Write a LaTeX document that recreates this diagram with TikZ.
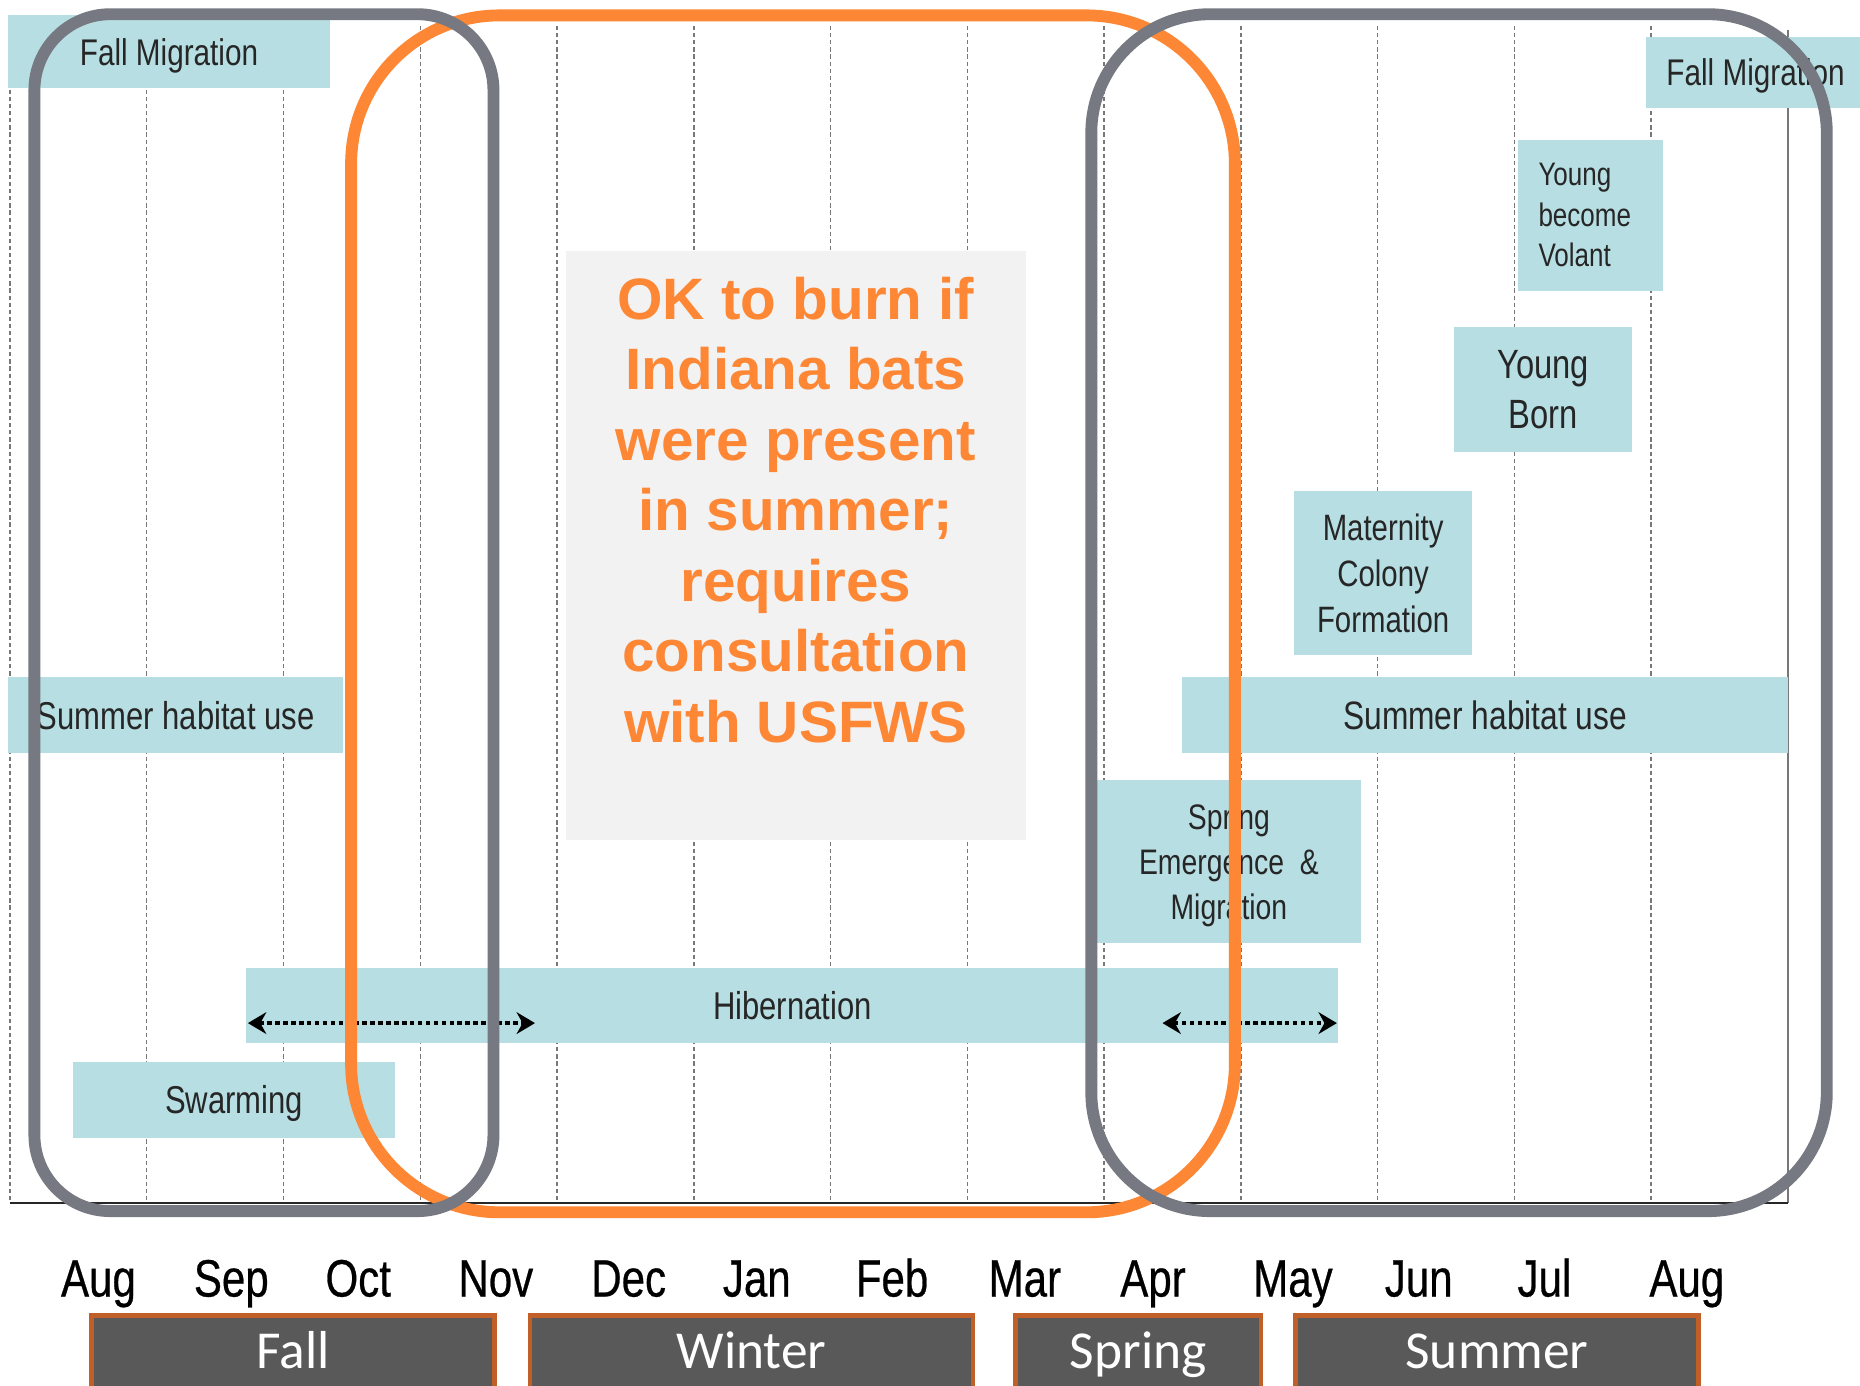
\documentclass[tikz,border=0pt]{standalone}
\usepackage{fontspec}
\usetikzlibrary{arrows.meta}
\newfontfamily\narrowsans[FakeStretch=0.8]{Liberation Sans}
\newfontfamily\monthsans[FakeStretch=0.8,FakeBold=0.5]{Liberation Sans}
\newfontfamily\arialsans{Liberation Sans}
\newfontfamily\calibsans{Carlito}
\definecolor{boxteal}{RGB}{183,223,227}
\definecolor{okorange}{RGB}{253,135,52}
\definecolor{loopgray}{RGB}{118,121,129}
\definecolor{seasonfill}{RGB}{89,89,89}
\definecolor{seasonedge}{RGB}{192,96,40}
\definecolor{paneltint}{RGB}{242,242,242}
\definecolor{gridgray}{RGB}{120,120,120}
\begin{document}
\begin{tikzpicture}[x=0.01cm,y=-0.01cm,
  gridline/.style={gridgray, line width=0.35pt, dash pattern=on 1pt off 0.7pt},
  phase/.style={fill=boxteal, inner sep=0pt, text=black!85, align=center, text depth=0pt,
    font=\narrowsans\fontsize{9.3}{11}\selectfont},
  month/.style={anchor=base, text=black, font=\monthsans\fontsize{12.6}{14}\selectfont},
  season/.style={fill=seasonfill, draw=seasonedge, line width=1.1pt, text=white,
    inner sep=0pt, text height=8pt, text depth=4pt, font=\calibsans\fontsize{12.8}{14}\selectfont},
  loop/.style={line width=0.1cm},
  oktext/.style={anchor=base, text=okorange, inner sep=0pt,
    font=\arialsans\bfseries\fontsize{14}{16.8}\selectfont},
  hibarrow/.style={black, line width=1.1pt, dash pattern=on 1.1pt off 0.8pt,
    {Stealth[length=4.4pt,width=5.2pt]}-{Stealth[length=4.4pt,width=5.2pt]}}
]
\useasboundingbox (0,0) rectangle (1568,1168);
\clip (0,0) rectangle (1568,1168);
\fill[white] (0,0) rectangle (1568,1168);

% grid
\foreach \i in {0,...,12}
  \draw[gridline] ({8.4+115.3*\i},22) -- ({8.4+115.3*\i},1014);
\draw[gridgray, line width=0.4pt] (1507.3,25) -- (1507.3,1014);
\draw[black!85, line width=0.6pt] (8.4,1014) -- (1507.3,1014);

% phase boxes
\node[phase, minimum width=2.71cm, minimum height=0.61cm,
  font=\narrowsans\fontsize{8.9}{11}\selectfont] (fallmigA) at (142.5,43.5) {Fall Migration};
\node[phase, minimum width=1.84cm, minimum height=0.60cm,
  font=\narrowsans\fontsize{8.9}{11}\selectfont] (fallmigB) at (1480,61) {Fall Migration};
\node[phase, minimum width=1.22cm, minimum height=1.27cm, align=left, text width=0.88cm, text depth=,
  font=\narrowsans\fontsize{7.8}{9.7}\selectfont] (volant) at (1341,181.5) {Young\\become\\Volant};
\node[phase, minimum width=1.50cm, minimum height=1.05cm,
  font=\narrowsans\fontsize{9.8}{12}\selectfont] (born) at (1301,328.5) {Young\\Born};
\node[phase, minimum width=1.50cm, minimum height=1.38cm,
  font=\narrowsans\fontsize{8.8}{11}\selectfont] (maternity) at (1166,483) {Maternity\\Colony\\Formation};
\node[phase, minimum width=5.10cm, minimum height=0.64cm,
  font=\narrowsans\fontsize{9.5}{11}\selectfont] (summerR) at (1252,603) {Summer habitat use};
\node[phase, minimum width=2.82cm, minimum height=0.64cm] (summerL) at (148,603) {Summer habitat use};
\node[phase, minimum width=2.22cm, minimum height=1.37cm,
  font=\narrowsans\fontsize{8.5}{10.8}\selectfont] (spring) at (1036,726.5) {Spring\\Emergence\ \ \&\\Migration};
\node[phase, minimum width=9.20cm, minimum height=0.63cm] (hib) at (668,847.5) {Hibernation};
\node[phase, minimum width=2.71cm, minimum height=0.64cm] (swarm) at (197.5,927) {Swarming};

% hibernation arrows
\coordinate (hl1) at (209,862.5);
\coordinate (hl2) at (451,862.5);
\coordinate (hr1) at (980,862.5);
\coordinate (hr2) at (1127,862.5);
\draw[hibarrow] (hl1) -- (hl2);
\draw[hibarrow] (hr1) -- (hr2);

% central panel
\node[fill=paneltint, minimum width=3.88cm, minimum height=4.96cm, inner sep=0pt] (panel) at (671,460) {};
\foreach \t [count=\k] in {OK to burn if, Indiana bats, were present, {in summer;}, requires, consultation, with USFWS}
  \node[oktext] (ok\k) at (671,{269+59.5*(\k-1)}) {\t};

% season loops
\draw[loop, okorange, rounded corners=1.25cm] (296,13) rectangle (1041,1022);
\draw[loop, loopgray, rounded corners=0.64cm] (29,12) rectangle (416,1021);
\draw[loop, loopgray, rounded corners=1.0cm] (920,12) rectangle (1540,1021);

% months
\foreach \m/\xm [count=\k from 0] in {Aug/83,Sep/195,Oct/302,Nov/418,Dec/530,Jan/638,Feb/752,Mar/864,Apr/972,May/1090,Jun/1196,Jul/1302,Aug/1422}
  \node[month] (mon\k) at (\xm,1093) {\m};

% seasons
\node[season, minimum width=3.40cm, minimum height=0.76cm] (fall) at (247,1147) {Fall};
\node[season, minimum width=3.73cm, minimum height=0.76cm] (winter) at (633.5,1147) {Winter};
\node[season, minimum width=2.07cm, minimum height=0.76cm] (springS) at (959.5,1147) {Spring};
\node[season, minimum width=3.40cm, minimum height=0.76cm] (summer) at (1262,1147) {Summer};
\end{tikzpicture}
\end{document}
